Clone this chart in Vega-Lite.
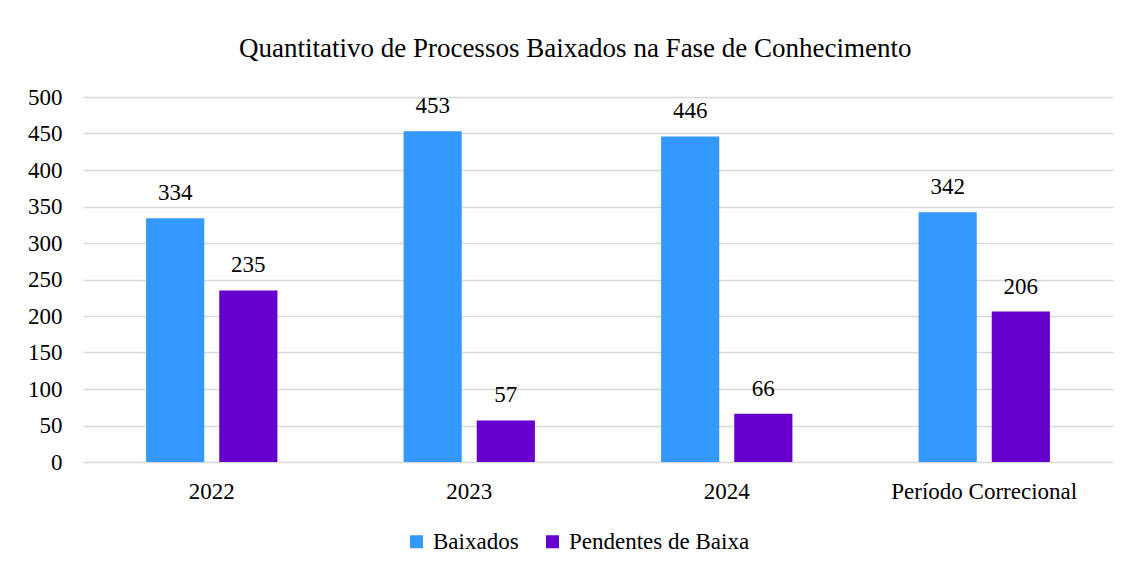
{
  "$schema": "https://vega.github.io/schema/vega-lite/v6.json",
  "width": 1030,
  "height": 365,
  "padding": {"left": 27, "top": 35, "right": 16, "bottom": 10},
  "background": "white",
  "title": {
    "text": "Quantitativo de Processos Baixados na Fase de Conhecimento",
    "font": "Liberation Serif",
    "fontSize": 27,
    "fontWeight": "normal",
    "color": "#000000",
    "offset": 23,
    "frame": "bounds",
    "dx": 5
  },
  "data": {
    "values": [
      {"periodo": "2022", "serie": "Baixados", "valor": 334},
      {"periodo": "2022", "serie": "Pendentes de Baixa", "valor": 235},
      {"periodo": "2023", "serie": "Baixados", "valor": 453},
      {"periodo": "2023", "serie": "Pendentes de Baixa", "valor": 57},
      {"periodo": "2024", "serie": "Baixados", "valor": 446},
      {"periodo": "2024", "serie": "Pendentes de Baixa", "valor": 66},
      {"periodo": "Período Correcional", "serie": "Baixados", "valor": 342},
      {"periodo": "Período Correcional", "serie": "Pendentes de Baixa", "valor": 206}
    ]
  },
  "encoding": {
    "x": {
      "field": "periodo",
      "type": "nominal",
      "sort": null,
      "title": null,
      "scale": {"paddingInner": 0.49, "paddingOuter": 0.245},
      "axis": {"labelAngle": 0, "domain": false, "ticks": false, "labelPadding": 18, "labelFontSize": 23, "labelFont": "Liberation Serif", "labelColor": "#000000", "grid": false, "labelLimit": 0}
    },
    "xOffset": {
      "field": "serie",
      "type": "nominal",
      "scale": {"paddingInner": 0.205, "paddingOuter": 0}
    },
    "y": {
      "field": "valor",
      "type": "quantitative",
      "title": null,
      "scale": {"domain": [0, 500]},
      "axis": {"values": [0, 50, 100, 150, 200, 250, 300, 350, 400, 450, 500], "domain": false, "ticks": false, "labelPadding": 21, "labelFontSize": 23, "labelFont": "Liberation Serif", "labelColor": "#000000", "gridColor": "#d9d9d9", "gridWidth": 1.5}
    }
  },
  "layer": [
    {
      "mark": {"type": "bar"},
      "encoding": {
        "color": {
          "field": "serie",
          "type": "nominal",
          "title": null,
          "scale": {"domain": ["Baixados", "Pendentes de Baixa"], "range": ["#3399ff", "#6600cc"]},
          "legend": {"orient": "none", "legendX": 322, "legendY": 433, "direction": "horizontal", "symbolType": "square", "symbolSize": 169, "symbolStrokeWidth": 0, "labelFontSize": 23, "labelFont": "Liberation Serif", "labelColor": "#000000", "labelLimit": 0, "columnPadding": 22, "labelOffset": 5}
        }
      }
    },
    {
      "mark": {"type": "text", "baseline": "bottom", "dy": -13, "font": "Liberation Serif", "fontSize": 23, "color": "#000000"},
      "encoding": {"text": {"field": "valor", "type": "quantitative"}}
    }
  ],
  "config": {
    "view": {"stroke": null}
  }
}
